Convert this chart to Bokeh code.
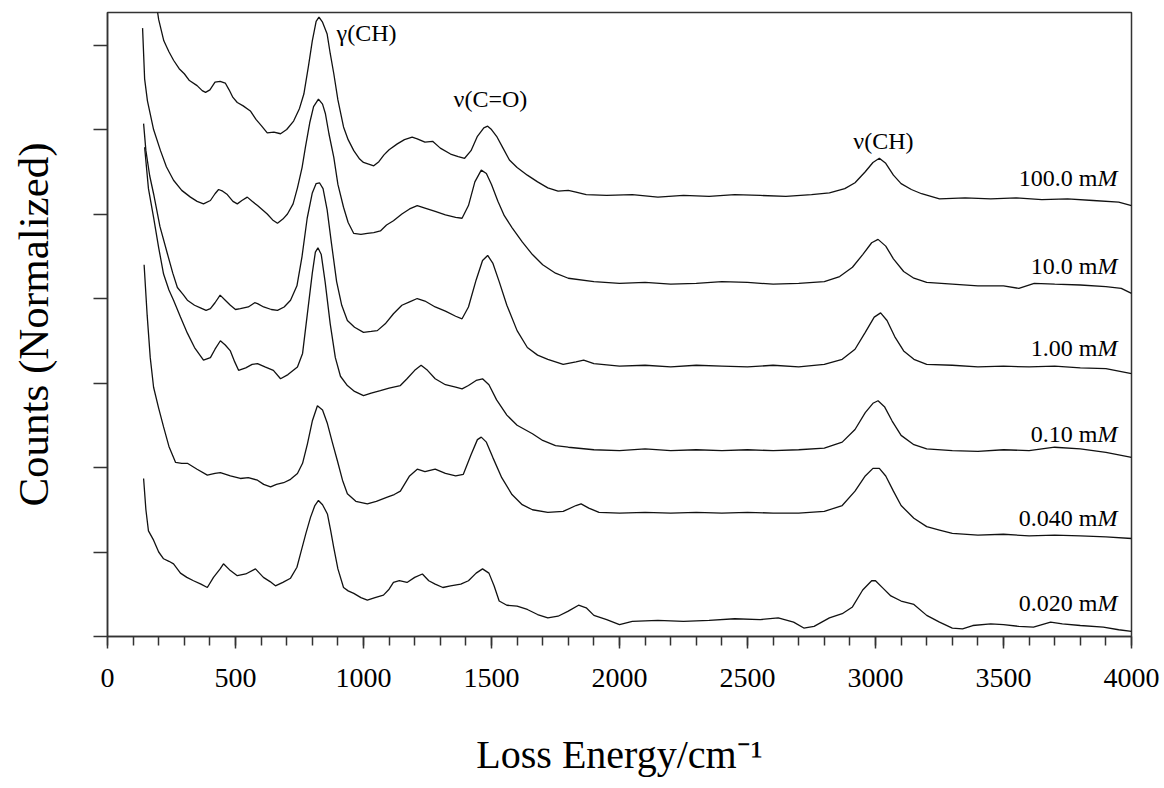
import numpy as np
from bokeh.plotting import figure
from bokeh.models import Range1d, FixedTicker, ColumnDataSource
from bokeh.core.properties import value
from bokeh.embed import file_html
from bokeh.resources import INLINE

# ---------------- data (loss energy in cm^-1, normalized counts with offset) ----------------
series_names = ["100.0 mM", "10.0 mM", "1.00 mM", "0.10 mM", "0.040 mM", "0.020 mM"]
label_num = ["100.0 m", "10.0 m", "1.00 m", "0.10 m", "0.040 m", "0.020 m"]
label_unit = ["M", "M", "M", "M", "M", "M"]
label_y = [5.43, 4.39, 3.41, 2.40, 1.40, 0.40]

x_ticks = [0, 500, 1000, 1500, 2000, 2500, 3000, 3500, 4000]
y_ticks = [0, 1, 2, 3, 4, 5, 6, 7]

peak_names = ["γ(CH)", "ν(C=O)", "ν(CH)"]
peak_x = [1012, 1496, 3031]
peak_y = [7.14, 6.36, 5.86]

s100 = [(185, 7.6), (200, 7.3), (220, 7.05), (240, 6.92), (258, 6.82), (280, 6.72), (300, 6.66),
        (320, 6.58), (350, 6.52), (370, 6.46), (383, 6.44), (400, 6.47), (420, 6.56), (440, 6.57),
        (460, 6.55), (475, 6.47), (490, 6.38), (507, 6.32), (530, 6.28), (558, 6.22), (580, 6.12),
        (600, 6.05), (624, 5.96), (650, 5.97), (676, 5.95), (700, 6.0), (727, 6.10), (750, 6.25),
        (767, 6.42), (785, 6.75), (800, 7.05), (815, 7.28), (826, 7.33), (840, 7.27), (858, 7.13),
        (870, 6.9), (884, 6.66), (900, 6.35), (922, 6.03), (940, 5.88), (962, 5.75), (985, 5.65),
        (1000, 5.61), (1020, 5.59), (1040, 5.57), (1060, 5.62), (1080, 5.70), (1100, 5.76),
        (1132, 5.83), (1160, 5.88), (1190, 5.91), (1210, 5.89), (1240, 5.85), (1270, 5.86),
        (1300, 5.78), (1340, 5.71), (1370, 5.68), (1395, 5.66), (1420, 5.75), (1445, 5.92),
        (1470, 6.02), (1485, 6.04), (1500, 6.0), (1520, 5.92), (1545, 5.78), (1570, 5.64),
        (1600, 5.55), (1640, 5.46), (1680, 5.38), (1720, 5.31), (1760, 5.27), (1800, 5.28),
        (1830, 5.26), (1870, 5.23), (1950, 5.22), (2050, 5.23), (2150, 5.20), (2250, 5.22),
        (2350, 5.21), (2450, 5.23), (2550, 5.22), (2650, 5.21), (2750, 5.23), (2820, 5.25),
        (2880, 5.30), (2920, 5.37), (2960, 5.50), (2990, 5.61), (3015, 5.66), (3040, 5.60),
        (3070, 5.46), (3100, 5.36), (3140, 5.29), (3180, 5.24), (3250, 5.18), (3350, 5.19),
        (3450, 5.18), (3550, 5.19), (3650, 5.17), (3750, 5.18), (3850, 5.16), (3950, 5.14),
        (4000, 5.10)]

s10 = [(137, 7.2), (145, 6.6), (156, 6.34), (180, 6.0), (207, 5.75), (230, 5.56), (258, 5.40),
       (290, 5.28), (324, 5.20), (350, 5.15), (375, 5.12), (402, 5.16), (420, 5.24), (434, 5.29),
       (450, 5.27), (468, 5.23), (490, 5.15), (507, 5.12), (525, 5.16), (546, 5.20), (565, 5.15),
       (586, 5.10), (605, 5.05), (624, 5.0), (645, 4.93), (664, 4.89), (685, 4.94), (703, 5.0),
       (725, 5.12), (742, 5.31), (760, 5.55), (773, 5.79), (790, 6.08), (805, 6.27), (824, 6.36),
       (840, 6.30), (851, 6.19), (865, 5.95), (884, 5.67), (900, 5.35), (922, 5.08), (940, 4.90),
       (962, 4.77), (990, 4.76), (1015, 4.77), (1040, 4.78), (1066, 4.80), (1090, 4.87),
       (1117, 4.92), (1150, 5.0), (1180, 5.06), (1210, 5.10), (1240, 5.07), (1280, 5.03),
       (1320, 4.99), (1360, 4.96), (1385, 4.95), (1410, 5.10), (1435, 5.38), (1460, 5.52),
       (1480, 5.48), (1500, 5.35), (1525, 5.15), (1550, 4.98), (1580, 4.84), (1620, 4.67),
       (1660, 4.52), (1700, 4.40), (1750, 4.30), (1800, 4.24), (1900, 4.20), (2000, 4.18),
       (2100, 4.19), (2200, 4.17), (2300, 4.18), (2400, 4.20), (2500, 4.19), (2600, 4.17),
       (2700, 4.18), (2800, 4.20), (2860, 4.26), (2910, 4.37), (2950, 4.52), (2985, 4.66),
       (3010, 4.70), (3040, 4.62), (3070, 4.47), (3110, 4.32), (3150, 4.24), (3200, 4.19),
       (3300, 4.17), (3400, 4.15), (3500, 4.15), (3560, 4.12), (3620, 4.18), (3700, 4.17),
       (3800, 4.16), (3900, 4.14), (3960, 4.12), (4000, 4.06)]

s1 = [(141, 6.07), (150, 5.75), (165, 5.45), (180, 5.24), (205, 4.85), (234, 4.53), (255, 4.30),
      (273, 4.13), (295, 4.05), (312, 3.98), (340, 3.92), (363, 3.89), (385, 3.86), (402, 3.88),
      (420, 3.95), (440, 4.04), (460, 3.98), (480, 3.92), (500, 3.87), (519, 3.88), (550, 3.90),
      (575, 3.95), (586, 3.94), (610, 3.90), (640, 3.87), (664, 3.86), (690, 3.90), (715, 3.98),
      (740, 4.15), (760, 4.50), (780, 4.95), (800, 5.25), (815, 5.36), (828, 5.37), (842, 5.30),
      (858, 5.05), (875, 4.65), (895, 4.20), (915, 3.92), (937, 3.74), (965, 3.66), (1000, 3.60),
      (1030, 3.61), (1054, 3.62), (1085, 3.70), (1117, 3.82), (1150, 3.92), (1180, 3.96),
      (1210, 4.00), (1240, 3.97), (1280, 3.90), (1320, 3.85), (1360, 3.79), (1385, 3.76),
      (1410, 3.90), (1440, 4.22), (1465, 4.45), (1485, 4.51), (1505, 4.42), (1530, 4.20),
      (1560, 3.92), (1600, 3.62), (1640, 3.42), (1680, 3.33), (1720, 3.28), (1780, 3.22),
      (1830, 3.25), (1860, 3.27), (1900, 3.23), (2000, 3.20), (2100, 3.21), (2200, 3.19),
      (2300, 3.21), (2400, 3.20), (2500, 3.19), (2600, 3.21), (2700, 3.19), (2800, 3.22),
      (2870, 3.28), (2920, 3.40), (2960, 3.60), (2995, 3.78), (3020, 3.83), (3045, 3.74),
      (3075, 3.55), (3110, 3.38), (3150, 3.28), (3200, 3.22), (3300, 3.21), (3400, 3.19),
      (3500, 3.20), (3600, 3.19), (3700, 3.20), (3800, 3.18), (3900, 3.17), (4000, 3.11)]

s01 = [(145, 5.79), (160, 5.30), (180, 4.96), (200, 4.60), (219, 4.29), (240, 4.10), (258, 3.98),
       (285, 3.78), (312, 3.59), (340, 3.42), (375, 3.27), (402, 3.30), (420, 3.40), (441, 3.50),
       (460, 3.45), (480, 3.38), (497, 3.25), (512, 3.15), (540, 3.18), (565, 3.22), (586, 3.23),
       (615, 3.19), (648, 3.15), (676, 3.05), (705, 3.10), (742, 3.19), (762, 3.35), (780, 3.80),
       (800, 4.30), (812, 4.55), (822, 4.60), (835, 4.52), (850, 4.20), (870, 3.70), (890, 3.30),
       (910, 3.08), (937, 2.97), (965, 2.90), (1000, 2.85), (1030, 2.88), (1066, 2.91),
       (1100, 2.94), (1144, 2.97), (1170, 3.05), (1200, 3.15), (1225, 3.21), (1250, 3.15),
       (1280, 3.05), (1320, 2.98), (1360, 2.95), (1385, 2.93), (1410, 2.97), (1440, 3.03),
       (1465, 3.05), (1490, 2.98), (1520, 2.80), (1560, 2.62), (1600, 2.50), (1630, 2.45),
       (1660, 2.40), (1700, 2.32), (1750, 2.26), (1800, 2.24), (1900, 2.21), (2000, 2.20),
       (2100, 2.22), (2200, 2.20), (2300, 2.21), (2400, 2.20), (2500, 2.21), (2600, 2.20),
       (2700, 2.21), (2800, 2.23), (2870, 2.30), (2920, 2.45), (2960, 2.65), (2990, 2.76),
       (3010, 2.79), (3035, 2.72), (3065, 2.55), (3100, 2.38), (3150, 2.27), (3200, 2.22),
       (3300, 2.20), (3400, 2.19), (3500, 2.21), (3600, 2.20), (3700, 2.24), (3800, 2.22),
       (3900, 2.18), (4000, 2.12)]

s004 = [(143, 4.40), (155, 3.80), (167, 3.30), (180, 2.95), (200, 2.70), (219, 2.48), (240, 2.25),
        (266, 2.06), (290, 2.05), (312, 2.05), (350, 1.98), (390, 1.91), (420, 1.93), (441, 1.94),
        (480, 1.90), (519, 1.87), (550, 1.88), (586, 1.85), (610, 1.80), (637, 1.77), (660, 1.80),
        (688, 1.82), (715, 1.86), (742, 1.93), (762, 2.05), (781, 2.28), (800, 2.55), (820, 2.73),
        (840, 2.68), (859, 2.52), (878, 2.30), (898, 2.08), (918, 1.85), (937, 1.69), (970, 1.60),
        (1015, 1.57), (1050, 1.60), (1093, 1.65), (1120, 1.68), (1144, 1.72), (1180, 1.90),
        (1210, 1.98), (1240, 1.95), (1280, 1.98), (1320, 1.93), (1360, 1.90), (1390, 1.92),
        (1420, 2.15), (1445, 2.33), (1460, 2.36), (1480, 2.30), (1505, 2.12), (1540, 1.88),
        (1580, 1.68), (1620, 1.56), (1660, 1.50), (1720, 1.47), (1780, 1.48), (1830, 1.55),
        (1850, 1.57), (1880, 1.52), (1920, 1.47), (2000, 1.46), (2100, 1.47), (2200, 1.46),
        (2300, 1.47), (2400, 1.46), (2500, 1.47), (2600, 1.46), (2700, 1.46), (2800, 1.48),
        (2870, 1.55), (2920, 1.72), (2960, 1.90), (2990, 1.99), (3015, 1.99), (3040, 1.90),
        (3070, 1.72), (3100, 1.55), (3150, 1.40), (3200, 1.30), (3250, 1.26), (3300, 1.22),
        (3400, 1.20), (3500, 1.21), (3600, 1.19), (3700, 1.20), (3800, 1.19), (3900, 1.18),
        (4000, 1.16)]

s002 = [(141, 1.87), (150, 1.50), (160, 1.25), (180, 1.14), (200, 1.00), (219, 0.92), (240, 0.89),
        (258, 0.86), (285, 0.75), (310, 0.70), (336, 0.66), (365, 0.62), (390, 0.58), (414, 0.70),
        (440, 0.80), (453, 0.86), (480, 0.78), (507, 0.72), (540, 0.74), (578, 0.80), (609, 0.70),
        (635, 0.65), (656, 0.60), (685, 0.64), (715, 0.69), (740, 0.82), (754, 0.98), (775, 1.22),
        (793, 1.41), (810, 1.55), (824, 1.61), (840, 1.56), (859, 1.45), (872, 1.25), (884, 1.05),
        (900, 0.80), (922, 0.58), (940, 0.54), (962, 0.51), (990, 0.46), (1015, 0.43),
        (1045, 0.46), (1078, 0.49), (1100, 0.56), (1117, 0.64), (1140, 0.66), (1170, 0.64),
        (1200, 0.70), (1230, 0.74), (1255, 0.66), (1280, 0.62), (1310, 0.58), (1340, 0.60),
        (1380, 0.62), (1410, 0.66), (1440, 0.75), (1465, 0.80), (1490, 0.75), (1510, 0.60),
        (1530, 0.42), (1560, 0.37), (1600, 0.36), (1640, 0.32), (1680, 0.26), (1720, 0.22),
        (1760, 0.24), (1800, 0.30), (1840, 0.37), (1870, 0.34), (1900, 0.25), (1950, 0.20),
        (2000, 0.14), (2050, 0.18), (2150, 0.19), (2250, 0.18), (2350, 0.19), (2450, 0.21),
        (2550, 0.20), (2620, 0.22), (2680, 0.17), (2720, 0.10), (2760, 0.12), (2820, 0.22),
        (2870, 0.27), (2910, 0.35), (2950, 0.55), (2985, 0.66), (3000, 0.66), (3030, 0.57),
        (3060, 0.48), (3100, 0.42), (3150, 0.38), (3200, 0.25), (3250, 0.17), (3300, 0.10),
        (3340, 0.09), (3380, 0.13), (3450, 0.15), (3500, 0.14), (3560, 0.12), (3617, 0.11),
        (3684, 0.17), (3730, 0.15), (3800, 0.13), (3890, 0.11), (3950, 0.08), (4000, 0.06)]

all_series = [s100, s10, s1, s01, s004, s002]

# ---------------- figure ----------------
SERIF = "Liberation Serif"

p = figure(width=1164, height=788, output_backend="svg", toolbar_location=None,
           x_range=Range1d(0, 4000), y_range=Range1d(0, 7.385),
           min_border_left=107, min_border_right=33, min_border_top=12, min_border_bottom=152)
p.background_fill_color = "white"
p.border_fill_color = "white"
p.xgrid.visible = False
p.ygrid.visible = False
p.outline_line_color = "#333333"
p.outline_line_width = 1.5

for name, s in zip(series_names, all_series):
    xs = [a for a, b in s]
    ys = [b for a, b in s]
    p.line(xs, ys, line_color="#111111", line_width=1.3, name=name)

# x axis
xa = p.xaxis[0]
xa.ticker = FixedTicker(ticks=x_ticks, minor_ticks=list(range(0, 4001, 100)))
xa.major_tick_out = 12
xa.major_tick_in = 0
xa.minor_tick_out = 9
xa.minor_tick_in = 0
xa.axis_line_color = "#333333"
xa.axis_line_width = 1.5
xa.major_tick_line_color = "#333333"
xa.major_tick_line_width = 1.5
xa.minor_tick_line_color = "#333333"
xa.minor_tick_line_width = 1.5
xa.major_label_text_font = SERIF
xa.major_label_text_font_size = "28px"
xa.major_label_text_color = "black"
xa.major_label_standoff = 20
xa.axis_label = "Loss Energy/cm⁻¹"
xa.axis_label_text_font = SERIF
xa.axis_label_text_font_size = "40px"
xa.axis_label_text_font_style = "normal"
xa.axis_label_text_color = "black"
xa.axis_label_standoff = 42

# y axis (ticks only, no numbers)
ya = p.yaxis[0]
ya.ticker = FixedTicker(ticks=y_ticks, minor_ticks=[])
ya.major_tick_out = 14
ya.major_tick_in = 0
ya.minor_tick_out = 0
ya.minor_tick_in = 0
ya.axis_line_color = "#333333"
ya.axis_line_width = 1.5
ya.major_tick_line_color = "#333333"
ya.major_tick_line_width = 1.5
ya.major_label_overrides = {t: "" for t in y_ticks}
ya.major_label_text_font_size = "10px"
ya.axis_label = "Counts (Normalized)"
ya.axis_label_text_font = SERIF
ya.axis_label_text_font_size = "43px"
ya.axis_label_text_font_style = "normal"
ya.axis_label_text_color = "black"
ya.axis_label_standoff = 37

# peak annotations
src_pk = ColumnDataSource(dict(x=peak_x, y=peak_y, t=peak_names))
p.text(x="x", y="y", text="t", source=src_pk, text_align="center", text_baseline="middle",
       text_font=value(SERIF), text_font_size="24px", text_color="black")

# concentration labels: "... m" upright + italic "M"
x_anchor = [3867] * len(label_num)
src_l = ColumnDataSource(dict(x=x_anchor, y=label_y, t=label_num, u=label_unit))
p.text(x="x", y="y", text="t", source=src_l, text_align="right", text_baseline="middle",
       text_font=value(SERIF), text_font_size="24px", text_color="black")
p.text(x="x", y="y", text="u", source=src_l, text_align="left", text_baseline="middle",
       text_font=value(SERIF), text_font_size="24px", text_font_style="italic",
       text_color="black")

open("out.html", "w").write(file_html(p, INLINE))
